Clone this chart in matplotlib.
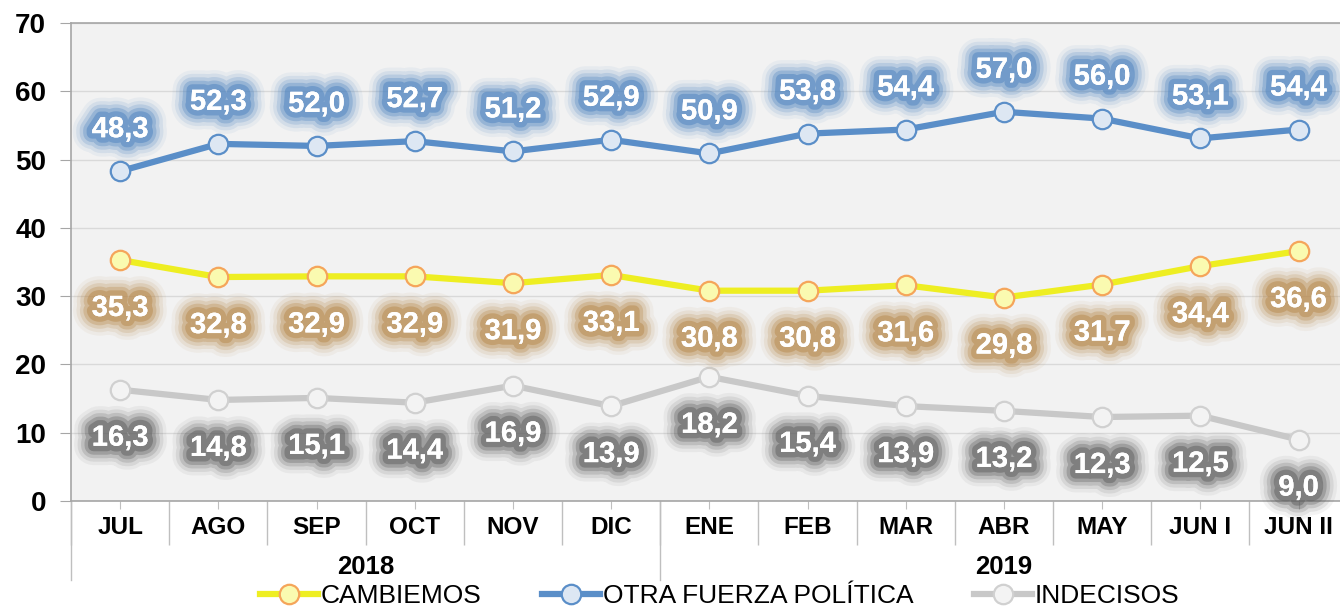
import matplotlib
matplotlib.use("Agg")
import matplotlib.pyplot as plt
import matplotlib.patheffects as pe
import matplotlib.transforms as mtransforms

# Data
months = ["JUL", "AGO", "SEP", "OCT", "NOV", "DIC",
          "ENE", "FEB", "MAR", "ABR", "MAY", "JUN I", "JUN II"]
years = ["2018", "2019"]
year_months = [6, 7]   # number of months in each year group

cambiemos = [35.3, 32.8, 32.9, 32.9, 31.9, 33.1, 30.8, 30.8, 31.6, 29.8, 31.7, 34.4, 36.6]
otra = [48.3, 52.3, 52.0, 52.7, 51.2, 52.9, 50.9, 53.8, 54.4, 57.0, 56.0, 53.1, 54.4]
indecisos = [16.3, 14.8, 15.1, 14.4, 16.9, 13.9, 18.2, 15.4, 13.9, 13.2, 12.3, 12.5, 9.0]

plt.rcParams["font.family"] = ["Liberation Sans", "DejaVu Sans"]


# soft glow behind the data labels
def glow(color):
    effects = []
    for w, a in [(28, 0.07), (23, 0.12), (18, 0.2), (13, 0.32), (8, 0.5)]:
        effects.append(pe.withStroke(linewidth=w, foreground=color, alpha=a))
    effects.append(pe.Normal())
    return effects


fig = plt.figure(figsize=(13.4, 6.07), dpi=100)
ax = fig.add_axes([0.053, 0.1746, 0.9527, 0.7875])
ax.set_facecolor("#f2f2f2")

x = list(range(len(months)))

series = [
    (cambiemos, "CAMBIEMOS", "#eeee22", "#fafab0", "#f5a55a", "#b88a4e", -48),
    (otra, "OTRA FUERZA POLÍTICA", "#5a8ec8", "#dde7f3", "#5a8ec8", "#4f84c0", 42),
    (indecisos, "INDECISOS", "#c8c8c8", "#f3f3f3", "#d0d0d0", "#606060", -48),
]

for vals, name, lc, fc, ec, gc, off in series:
    ax.plot(x, vals, color=lc, lw=4.5, marker="o", ms=14, mfc=fc, mec=ec,
            mew=1.6, label=name, zorder=3)
    for xi, v in zip(x, vals):
        ax.annotate(f"{v:.1f}".replace(".", ","), (xi, v), xytext=(0, off),
                    textcoords="offset pixels", ha="center", va="center",
                    color="white", fontsize=21, fontweight="bold",
                    path_effects=glow(gc), zorder=4)

ax.set_ylim(0, 70)
ax.set_yticks(range(0, 71, 10))
ax.set_xlim(-0.5, len(months) - 0.5)
ax.grid(axis="y", color="#d9d9d9", lw=1)
ax.set_axisbelow(True)

for s in ax.spines.values():
    s.set_color("#a6a6a6")
    s.set_linewidth(1.2)

ax.tick_params(axis="y", length=8, color="#a6a6a6", labelsize=20, pad=10)
for t in ax.get_yticklabels():
    t.set_fontweight("bold")

ax.set_xticks(x)
ax.set_xticklabels(months, fontsize=17.5, fontweight="bold")
ax.tick_params(axis="x", length=6, color="#bfbfbf", pad=5)
ax.set_xticks([i - 0.5 for i in range(len(months) + 1)], minor=True)
ax.tick_params(axis="x", which="minor", length=32, color="#bfbfbf", width=1)

# year group row
trans = mtransforms.blended_transform_factory(ax.transData, ax.transAxes)
start = -0.5
ax.plot([start, start], [0, -0.165], transform=trans, color="#bfbfbf", lw=1, clip_on=False)
for yr, n in zip(years, year_months):
    end = start + n
    ax.text((start + end) / 2, -0.138, yr, transform=trans, ha="center", va="center",
            fontsize=18.5, fontweight="bold")
    ax.plot([end, end], [0, -0.165], transform=trans, color="#bfbfbf", lw=1, clip_on=False)
    start = end

fig.legend(loc="center", bbox_to_anchor=(0.537, 0.018), ncol=3, frameon=False,
           fontsize=19, handlelength=2.2, columnspacing=2.3, handletextpad=0.1,
           borderpad=0)

fig.savefig("out.png", dpi=100)
